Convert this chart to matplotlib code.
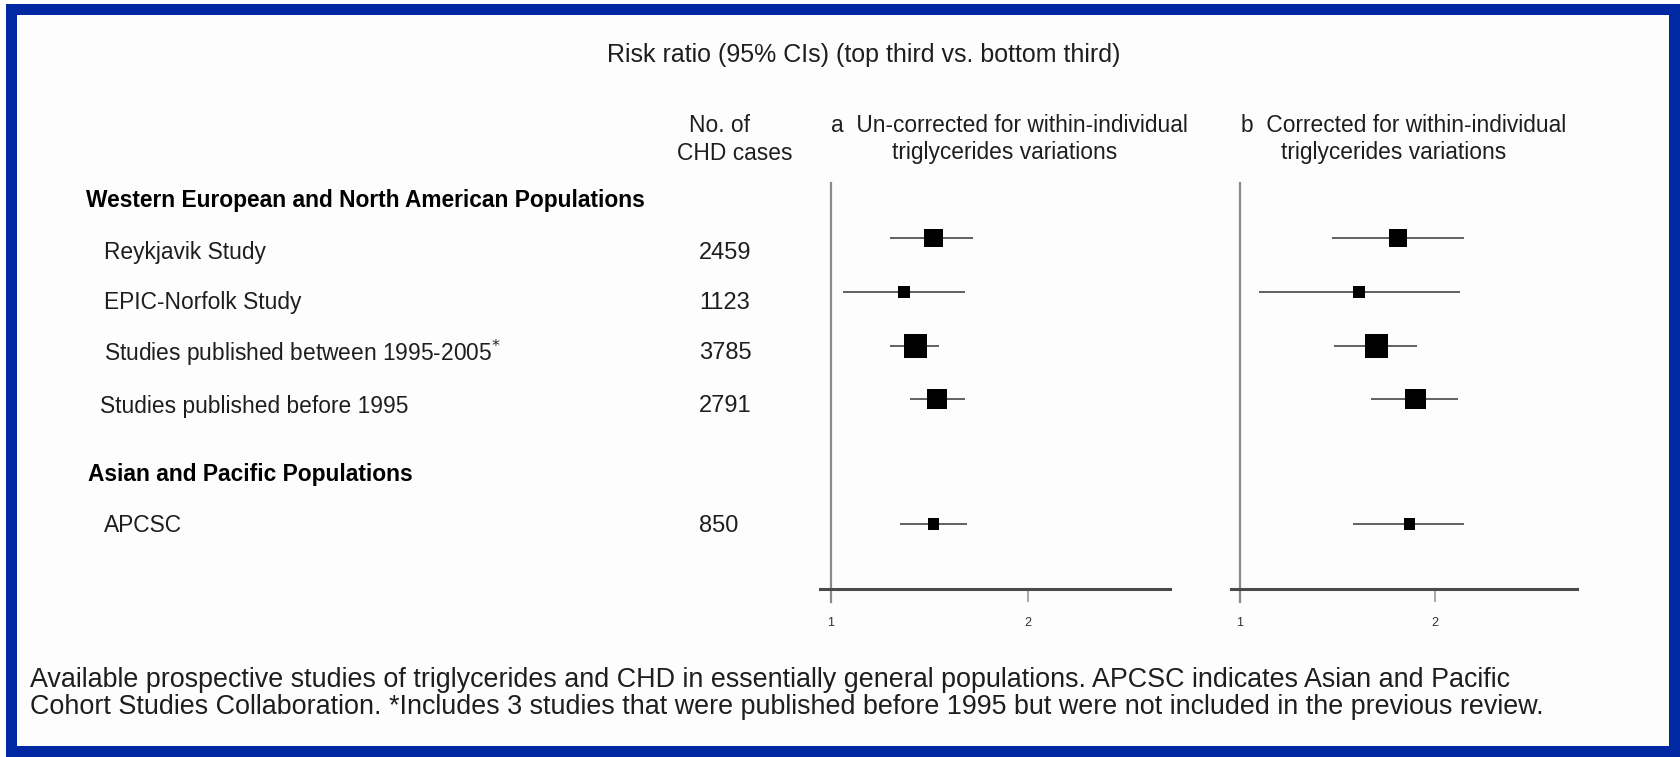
import matplotlib.pyplot as plt
from matplotlib.patches import Rectangle

plt.rcParams['font.family'] = ['Liberation Sans', 'DejaVu Sans']

# study rows
studies = ['Reykjavik Study', 'EPIC-Norfolk Study',
           'Studies published between 1995-2005$^{*}$',
           'Studies published before 1995', 'APCSC']
cases = [2459, 1123, 3785, 2791, 850]
groups = ['Western European and North American Populations',
          'Asian and Pacific Populations']

# risk ratios with 95% CIs, uncorrected (a) and corrected (b)
rr_a = [1.52, 1.37, 1.43, 1.54, 1.52]
lo_a = [1.30, 1.06, 1.30, 1.40, 1.35]
hi_a = [1.72, 1.68, 1.55, 1.68, 1.69]
rr_b = [1.81, 1.61, 1.70, 1.90, 1.87]
lo_b = [1.47, 1.10, 1.48, 1.67, 1.58]
hi_b = [2.15, 2.13, 1.91, 2.12, 2.15]
ticks = [1, 2]

W, H = 1681, 757
fig = plt.figure(figsize=(W / 100, H / 100), dpi=100, facecolor='white')

def fx(x):
    return x / W

def fy(y):
    return 1 - y / H

# blue frame
fig.patches.append(Rectangle((fx(6), 0), fx(W - 6), fy(4), transform=fig.transFigure,
                             facecolor='#0028a2', edgecolor='none', zorder=-2))
fig.patches.append(Rectangle((fx(17), fy(746)), fx(1669 - 17), (746 - 15) / H,
                             transform=fig.transFigure, facecolor='#fdfdfd',
                             edgecolor='none', zorder=-1))

txt = '#1e1e1e'
fs = 16.4

fig.text(fx(864), fy(55), 'Risk ratio (95% CIs) (top third vs. bottom third)',
         ha='center', va='center', fontsize=18, color=txt)
fig.text(fx(720), fy(126), 'No. of', ha='center', va='center', fontsize=fs, color=txt)
fig.text(fx(735), fy(153), 'CHD cases', ha='center', va='center', fontsize=fs, color=txt)
fig.text(fx(1009), fy(126), 'a  Un-corrected for within-individual',
         ha='center', va='center', fontsize=fs, color=txt)
fig.text(fx(1005), fy(153), 'triglycerides variations',
         ha='center', va='center', fontsize=fs, color=txt)
fig.text(fx(1404), fy(126), 'b  Corrected for within-individual',
         ha='center', va='center', fontsize=fs, color=txt)
fig.text(fx(1394), fy(153), 'triglycerides variations',
         ha='center', va='center', fontsize=fs, color=txt)

fig.text(fx(86), fy(200), groups[0], ha='left', va='center', fontsize=fs,
         fontweight='bold', color='black')
fig.text(fx(88), fy(474), groups[1], ha='left', va='center', fontsize=fs,
         fontweight='bold', color='black')

label_y = [253, 303, 353, 406, 526]
label_x = [104, 104, 104, 100, 104]
for name, n, x, y in zip(studies, cases, label_x, label_y):
    fig.text(fx(x), fy(y), name, ha='left', va='center', fontsize=fs, color=txt)
    fig.text(fx(699), fy(y), str(n), ha='left', va='center', fontsize=17, color=txt)

fig.text(fx(30), fy(680),
         'Available prospective studies of triglycerides and CHD in essentially '
         'general populations. APCSC indicates Asian and Pacific',
         ha='left', va='center', fontsize=19.4, color=txt)
fig.text(fx(30), fy(707),
         'Cohort Studies Collaboration. *Includes 3 studies that were published '
         'before 1995 but were not included in the previous review.',
         ha='left', va='center', fontsize=19.4, color=txt)

# forest panels
row_y = [238, 292, 346, 399, 524]
panels = [
    (820, 1170, (0.944, 2.721), rr_a, lo_a, hi_a),
    (1231, 1577, (0.954, 2.728), rr_b, lo_b, hi_b),
]
top, bottom = 183, 589
for left, right, xlim, rr, lo, hi in panels:
    ax = fig.add_axes([fx(left), fy(bottom), (right - left) / W, (bottom - top) / H])
    ax.set_zorder(2)
    ax.set_xlim(*xlim)
    ax.set_ylim(bottom, top)
    ax.patch.set_alpha(0)
    for s in ['top', 'right', 'left']:
        ax.spines[s].set_visible(False)
    ax.spines['bottom'].set_color('#4a4a4a')
    ax.spines['bottom'].set_linewidth(2.2)
    ax.set_yticks([])
    ax.set_xticks(ticks)
    ax.set_xticklabels([str(t) for t in ticks])
    ax.tick_params(axis='x', length=9.5, width=1.2, color='#999999', pad=11,
                   labelsize=9, labelcolor='#333333')
    ax.plot([1, 1], [top, bottom + 13], color='#8a8a8a', lw=1.6, clip_on=False)
    ax.hlines(row_y, lo, hi, color='#555555', lw=1.3, zorder=2)
    ax.scatter(rr, row_y, s=[c * 0.075 for c in cases], marker='s',
               color='black', zorder=3, linewidths=0)

fig.savefig('out.png', dpi=100, facecolor=fig.get_facecolor())
